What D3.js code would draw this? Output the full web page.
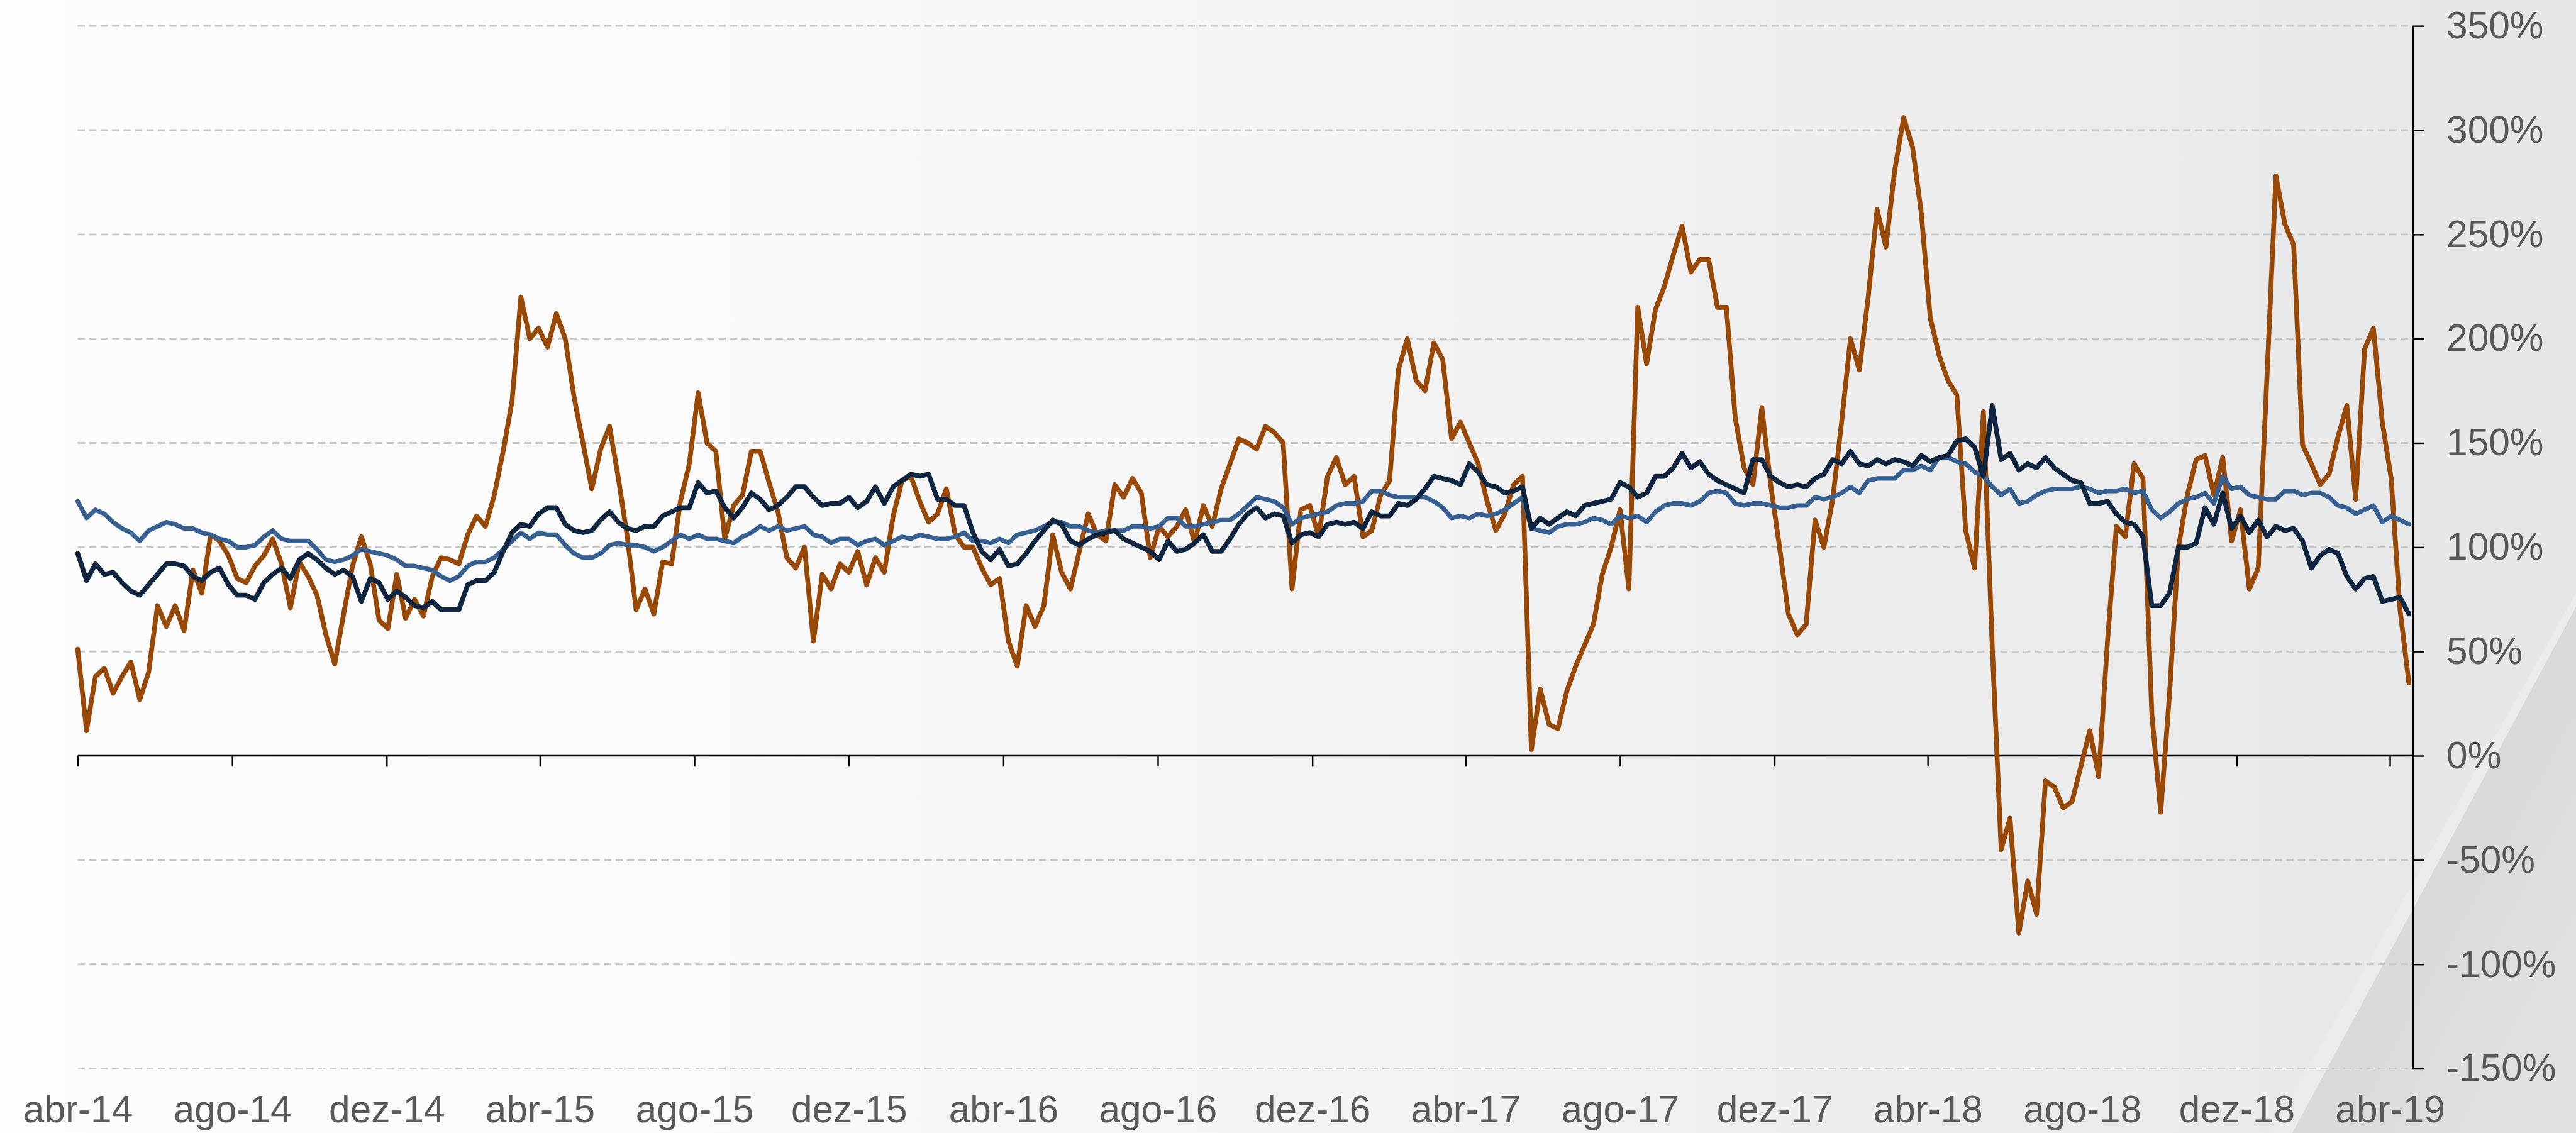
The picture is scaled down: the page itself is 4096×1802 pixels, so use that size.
<!DOCTYPE html>
<html>
<head>
<meta charset="utf-8">
<script src="https://cdnjs.cloudflare.com/ajax/libs/d3/7.8.5/d3.min.js"></script>
<style>
  html, body { margin: 0; padding: 0; background: #fff; }
  svg { display: block; }
</style>
</head>
<body>
<div id="chart"></div>
<script>

// month names for the tick labels (pt-BR)
const monthNames = ['jan', 'fev', 'mar', 'abr', 'mai', 'jun', 'jul', 'ago', 'set', 'out', 'nov', 'dez']
const yTicks = [-150, -100, -50, 0, 50, 100, 150, 200, 250, 300, 350]

// weekly observations, first one on 1 Apr 2014
const firstWeek = new Date(Date.UTC(2014, 3, 1))

const orangeValues = [
  51, 12, 38, 42, 30, 38, 45, 27, 40, 72,
  62, 72, 60, 89, 78, 106, 103, 96, 85, 83,
  91, 96, 104, 92, 71, 93, 86, 77, 58, 44,
  68, 91, 105, 92, 65, 61, 87, 66, 75, 67,
  86, 95, 94, 92, 106, 115, 110, 125, 146, 170,
  220, 200, 205, 196, 212, 200, 172, 150, 128, 147,
  158, 133, 105, 70, 80, 68, 93, 92, 122, 140,
  174, 150, 146, 104, 120, 125, 146, 146, 131, 117,
  95, 90, 100, 55, 87, 80, 92, 88, 98, 82,
  95, 88, 115, 132, 134, 122, 112, 116, 128, 106,
  100, 100, 90, 82, 85, 55, 43, 72, 62, 72,
  106, 88, 80, 98, 116, 106, 103, 130, 124, 133,
  126, 95, 110, 105, 110, 118, 102, 120, 110, 128,
  140, 152, 150, 147, 158, 155, 150, 80, 118, 120,
  105, 134, 143, 130, 134, 105, 108, 125, 132, 185,
  200, 180, 175, 198, 190, 152, 160, 150, 140, 122,
  108, 116, 130, 134, 3, 32, 15, 13, 31, 43,
  53, 63, 87, 100, 118, 80, 215, 188, 214, 225,
  240, 254, 232, 238, 238, 215, 215, 162, 138, 130,
  167, 130, 100, 68, 58, 63, 113, 100, 123, 160,
  200, 185, 220, 262, 244, 281, 306, 292, 260, 210,
  192, 180, 173, 108, 90, 165, 52, -45, -30, -85,
  -60, -76, -12, -15, -25, -22, -5, 12, -10, 55,
  110, 105, 140, 133, 20, -27, 30, 100, 125, 142,
  144, 125, 143, 103, 118, 80, 90, 183, 278, 255,
  245, 149, 140, 130, 135, 153, 168, 123, 195, 205,
  160, 133, 70, 35
]

const navyValues = [
  97, 84, 92, 87, 88, 83, 79, 77, 82, 87,
  92, 92, 91, 86, 84, 88, 90, 82, 77, 77,
  75, 83, 87, 90, 85, 94, 97, 94, 90, 87,
  89, 86, 74, 85, 83, 75, 79, 76, 72, 71,
  74, 70, 70, 70, 82, 84, 84, 88, 98, 107,
  111, 110, 116, 119, 119, 111, 108, 107, 108, 113,
  117, 112, 109, 108, 110, 110, 115, 117, 119, 119,
  131, 126, 127, 119, 114, 119, 126, 123, 118, 120,
  124, 129, 129, 124, 120, 121, 121, 124, 119, 122,
  129, 121, 129, 132, 135, 134, 135, 123, 123, 120,
  120, 107, 98, 94, 99, 91, 92, 97, 103, 108,
  113, 111, 103, 101, 104, 106, 107, 108, 104, 102,
  100, 98, 94, 103, 98, 99, 102, 106, 98, 98,
  104, 111, 116, 119, 114, 116, 115, 102, 106, 107,
  105, 111, 112, 111, 112, 109, 117, 115, 115, 121,
  120, 123, 128, 134, 133, 132, 130, 140, 136, 130,
  129, 126, 127, 129, 109, 114, 111, 114, 117, 115,
  120, 121, 122, 123, 131, 129, 124, 126, 134, 134,
  138, 145, 138, 141, 135, 132, 130, 128, 126, 142,
  142, 134, 131, 129, 130, 129, 133, 135, 142, 140,
  146, 140, 139, 142, 140, 142, 141, 139, 144, 141,
  143, 144, 151, 152, 148, 134, 168, 142, 145, 137,
  140, 138, 143, 138, 135, 132, 131, 121, 121, 122,
  116, 112, 111, 105, 72, 72, 78, 100, 100, 102,
  119, 111, 126, 109, 115, 107, 113, 105, 110, 108,
  109, 103, 90, 96, 99, 97, 86, 80, 85, 86,
  74, 75, 76, 68
]

const blueValues = [
  122, 114, 118, 116, 112, 109, 107, 103, 108, 110,
  112, 111, 109, 109, 107, 106, 104, 103, 100, 100,
  101, 105, 108, 104, 103, 103, 103, 99, 94, 93,
  94, 96, 99, 98, 97, 96, 94, 91, 91, 90,
  89, 86, 84, 86, 91, 93, 93, 95, 99, 103,
  107, 104, 107, 106, 106, 101, 97, 95, 95, 97,
  101, 102, 101, 101, 100, 98, 100, 103, 106, 104,
  106, 104, 104, 103, 102, 105, 107, 110, 108, 110,
  108, 109, 110, 106, 105, 102, 104, 104, 101, 103,
  104, 101, 103, 105, 104, 106, 105, 104, 104, 105,
  107, 103, 103, 102, 104, 102, 106, 107, 108, 110,
  112, 112, 110, 110, 108, 107, 108, 108, 108, 110,
  110, 109, 110, 114, 114, 110, 110, 111, 112, 113,
  113, 116, 120, 124, 123, 122, 119, 111, 114, 115,
  116, 117, 120, 121, 121, 122, 127, 127, 125, 124,
  124, 124, 124, 122, 119, 114, 115, 114, 116, 115,
  116, 118, 121, 124, 109, 108, 107, 110, 111, 111,
  112, 114, 113, 111, 115, 114, 115, 112, 117, 120,
  121, 121, 120, 122, 126, 127, 126, 121, 120, 121,
  121, 120, 119, 119, 120, 120, 124, 123, 124, 126,
  129, 126, 132, 133, 133, 133, 137, 137, 139, 137,
  143, 143, 141, 140, 136, 134, 129, 125, 128, 121,
  122, 125, 127, 128, 128, 128, 129, 128, 126, 127,
  127, 128, 126, 127, 118, 114, 117, 121, 123, 124,
  126, 121, 134, 128, 129, 125, 124, 123, 123, 127,
  127, 125, 126, 126, 124, 120, 119, 116, 118, 120,
  112, 115, 113, 111
]

// drawn in reference pixels, the viewBox shrinks it to the window
const W = 4277
const H = 1882
const left = 129
const axisRight = 4006
const fontFamily = '"Liberation Sans", Arial, Helvetica, sans-serif'
const labelColor = '#595959'

const weeks = orangeValues.map((_, i) => d3.utcDay.offset(firstWeek, 7 * i))
const tickDates = d3.utcMonth.range(firstWeek, new Date(Date.UTC(2019, 3, 2)), 4)

const x = d3.scaleUtc()
  .domain([firstWeek, new Date(Date.UTC(2019, 3, 1))])
  .range([left, 3968])

const y = d3.scaleLinear()
  .domain([-150, 350])
  .range([1775, 43])

const svg = d3.select('#chart')
  .append('svg')
  .attr('width', 4096)
  .attr('height', 1802)
  .attr('viewBox', `0 0 ${W} ${H}`)
  .attr('preserveAspectRatio', 'none')

const defs = svg.append('defs')

const bg = defs.append('linearGradient')
  .attr('id', 'bg')
  .attr('x1', 0).attr('y1', 0).attr('x2', 1).attr('y2', 0)
bg.selectAll('stop')
  .data([[0, '#fdfdfd'], [0.25, '#fafafa'], [0.5, '#f4f4f5'], [0.75, '#ededee'], [1, '#e5e6e7']])
  .enter().append('stop')
  .attr('offset', d => d[0])
  .attr('stop-color', d => d[1])

const wedge = defs.append('linearGradient')
  .attr('id', 'wedge')
  .attr('gradientUnits', 'userSpaceOnUse')
  .attr('x1', 4038).attr('y1', 1441).attr('x2', 4258).attr('y2', 1560)
wedge.append('stop').attr('offset', 0).attr('stop-color', '#d9d9db')
wedge.append('stop').attr('offset', 1).attr('stop-color', '#e0e0e2')

svg.append('rect')
  .attr('width', W)
  .attr('height', H)
  .attr('fill', 'url(#bg)')

// folded corner bottom right
svg.append('polygon')
  .attr('points', '4277,985 4277,1008 3806,1882 3772,1882')
  .attr('fill', '#ebebec')
svg.append('polygon')
  .attr('points', '4277,1008 4277,1882 3806,1882')
  .attr('fill', 'url(#wedge)')

// dashed grid
svg.append('g')
  .selectAll('line')
  .data(yTicks.filter(v => v !== 0))
  .enter().append('line')
  .attr('x1', left)
  .attr('x2', axisRight)
  .attr('y1', d => y(d))
  .attr('y2', d => y(d))
  .attr('stroke', '#c8c8c8')
  .attr('stroke-width', 3)
  .attr('stroke-dasharray', '12 7')

// x axis: ticks on the zero line, labels at the bottom
const xAxis = svg.append('g')
  .attr('transform', `translate(0,${y(0)})`)
  .call(d3.axisBottom(x).tickValues(tickDates).tickSize(18).tickFormat(''))
xAxis.select('.domain').remove()
xAxis.selectAll('line').attr('stroke', '#000').attr('stroke-width', 2.5)
xAxis.append('line')
  .attr('x1', left)
  .attr('x2', axisRight)
  .attr('stroke', '#000')
  .attr('stroke-width', 2.5)

const fmtDate = d => `${monthNames[d.getUTCMonth()]}-${String(d.getUTCFullYear()).slice(2)}`

const xLabels = svg.append('g')
  .attr('transform', 'translate(0,1800)')
  .call(d3.axisBottom(x).tickValues(tickDates).tickSize(0).tickPadding(20).tickFormat(fmtDate))
xLabels.select('.domain').remove()
xLabels.attr('font-size', 63).attr('font-family', fontFamily)
xLabels.selectAll('text').attr('fill', labelColor)

const yAxis = svg.append('g')
  .attr('transform', `translate(${axisRight},0)`)
  .call(d3.axisRight(y).tickValues(yTicks).tickSize(19).tickSizeOuter(0).tickPadding(37).tickFormat(d => d + '%'))
yAxis.attr('font-size', 63).attr('font-family', fontFamily)
yAxis.select('.domain').attr('stroke', '#000').attr('stroke-width', 2.5)
yAxis.selectAll('line').attr('stroke', '#000').attr('stroke-width', 2.5)
yAxis.selectAll('text').attr('fill', labelColor)

// series
const line = d3.line()
  .x((d, i) => x(weeks[i]))
  .y(d => y(d))

const series = [
  { values: orangeValues, color: '#984807', width: 8 },
  { values: blueValues, color: '#376092', width: 7.5 },
  { values: navyValues, color: '#10253f', width: 8 }
]

svg.append('g')
  .selectAll('path')
  .data(series)
  .enter().append('path')
  .attr('d', d => line(d.values))
  .attr('fill', 'none')
  .attr('stroke', d => d.color)
  .attr('stroke-width', d => d.width)
  .attr('stroke-linejoin', 'round')
  .attr('stroke-linecap', 'round')

</script>
</body>
</html>
